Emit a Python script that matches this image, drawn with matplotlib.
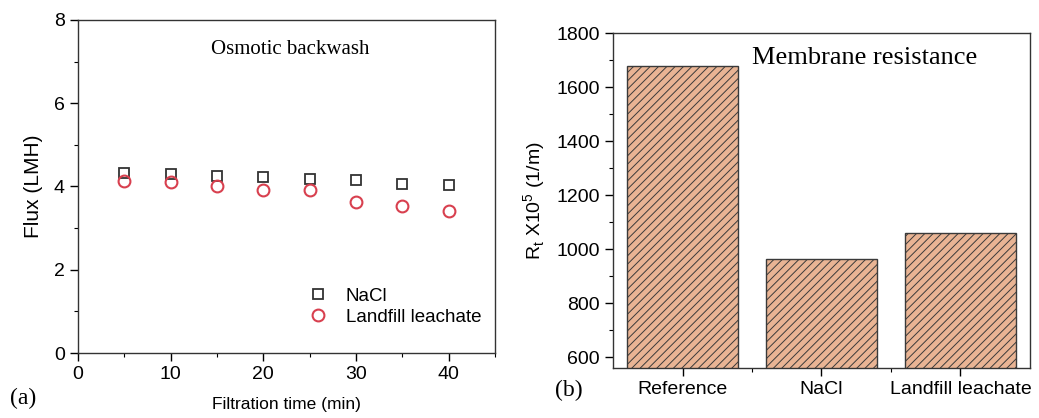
import matplotlib.pyplot as plt
from matplotlib.ticker import MultipleLocator
import numpy as np

plt.rcParams['font.family'] = ['Liberation Sans', 'DejaVu Sans']
plt.rcParams['hatch.color'] = '#9a6a55'
plt.rcParams['hatch.linewidth'] = 0.7

# panel (a): flux vs filtration time
time_min = [5, 10, 15, 20, 25, 30, 35, 40]
flux_nacl = [4.33, 4.30, 4.25, 4.24, 4.17, 4.15, 4.05, 4.04]
flux_leachate = [4.12, 4.10, 4.02, 3.92, 3.92, 3.62, 3.54, 3.42]

# panel (b): membrane resistance
categories = ["Reference", "NaCl", "Landfill leachate"]
resistance = [1678, 965, 1061]

fig = plt.figure(figsize=(10.39, 4.18), dpi=100)
ax1 = fig.add_axes([0.0751, 0.1555, 0.4013, 0.7967])
ax2 = fig.add_axes([0.590, 0.1196, 0.4013, 0.8014])

serif = ['Liberation Serif', 'DejaVu Serif']

# ---- (a)
ax1.plot(time_min, flux_nacl, 's', mfc='none', mec='#333333', mew=1.3, ms=7.5, label='NaCl')
ax1.plot(time_min, flux_leachate, 'o', mfc='none', mec='#d8404f', mew=1.5, ms=8.5,
         label='Landfill leachate')
ax1.set_xlim(0, 45)
ax1.set_ylim(0, 8)
ax1.xaxis.set_major_locator(MultipleLocator(10))
ax1.xaxis.set_minor_locator(MultipleLocator(5))
ax1.yaxis.set_major_locator(MultipleLocator(2))
ax1.yaxis.set_minor_locator(MultipleLocator(1))
ax1.set_xlabel('Filtration time (min)', fontsize=12.5, labelpad=10)
ax1.set_ylabel('Flux (LMH)', fontsize=15, labelpad=8)
ax1.text(22.9, 7.28, 'Osmotic backwash', family=serif, fontsize=15, ha='center', va='center')
ax1.legend(loc='lower right', bbox_to_anchor=(0.985, 0.06), frameon=False, fontsize=13.5,
           handletextpad=0.5, borderaxespad=0, labelspacing=0.2)
fig.text(0.010, 0.033, '(a)', family=serif, fontsize=17)

# ---- (b)
x = np.arange(len(categories))
ax2.bar(x, resistance, width=0.8, color='#e9b494', edgecolor='#3a3a3a', linewidth=1.0,
        hatch='////')
ax2.set_xlim(-0.5, 2.5)
ax2.set_ylim(560, 1800)
ax2.set_xticks(x)
ax2.set_xticklabels(categories, fontsize=14)
ax2.set_xticks([0.5, 1.5], minor=True)
ax2.yaxis.set_major_locator(MultipleLocator(200))
ax2.yaxis.set_minor_locator(MultipleLocator(100))
ax2.set_ylabel(r'R$_\mathregular{t}$ X10$^\mathregular{5}$ (1/m)', fontsize=14, labelpad=6)
ax2.text(1.31, 1706, 'Membrane resistance', family=serif, fontsize=19, ha='center', va='center')
fig.text(0.534, 0.053, '(b)', family=serif, fontsize=17)

for ax in (ax1, ax2):
    ax.tick_params(which='major', direction='out', length=6, width=1, labelsize=14,
                   top=False, right=False)
    ax.tick_params(which='minor', direction='out', length=3, width=0.8, top=False, right=False)
    for s in ax.spines.values():
        s.set_linewidth(1.0)
        s.set_color('#333333')

fig.savefig('out.png', dpi=100)
